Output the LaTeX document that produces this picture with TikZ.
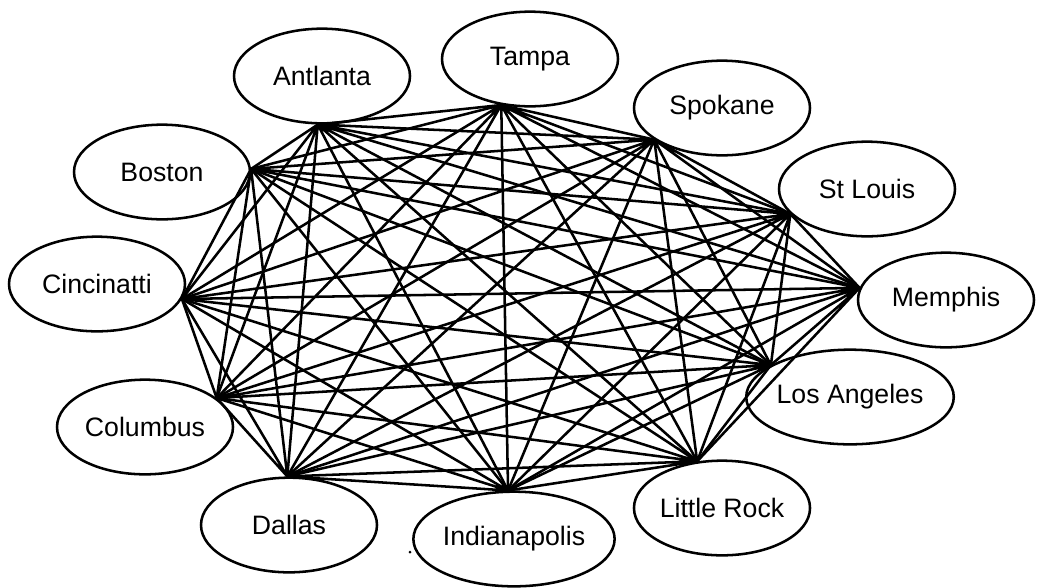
\documentclass[tikz,border=0pt]{standalone}
\usepackage{fontspec}
\setmainfont{Liberation Sans}
\usetikzlibrary{shapes.geometric}

\tikzset{every picture/.style={line width=1.9pt}}
\tikzset{city/.style={draw, ellipse, minimum width=132pt, minimum height=71pt, inner sep=0pt, font=\fontsize{20}{22}\selectfont}}

\begin{document}
\begin{tikzpicture}[x=0.75pt,y=0.75pt,yscale=-1,xscale=1]
\useasboundingbox (0,0) rectangle (1041,587);

%Shape: Ellipse [id:atl] 
\node [city] (atl) at (322,76) {Antlanta};
%Shape: Ellipse [id:tam] 
\node [city] (tam) at (530,59) {Tampa};
%Shape: Ellipse [id:spo] 
\node [city] (spo) at (722,108) {Spokane};
%Shape: Ellipse [id:stl] 
\node [city] (stl) at (867,189) {St Louis};
%Shape: Ellipse [id:mem] 
\node [city] (mem) at (946,300) {Memphis};
%Shape: Ellipse [id:la] 
\node [city] (la) at (850,397) {Los Angeles};
%Shape: Ellipse [id:lr] 
\node [city] (lr) at (722,508) {Little Rock};
%Shape: Ellipse [id:ind] 
\node [city] (ind) at (514,539) {Indianapolis};
%Shape: Ellipse [id:dal] 
\node [city] (dal) at (289,525) {Dallas};
%Shape: Ellipse [id:col] 
\node [city] (col) at (145,427) {Columbus};
%Shape: Ellipse [id:cin] 
\node [city] (cin) at (97,284) {Cincinatti};
%Shape: Ellipse [id:bos] 
\node [city] (bos) at (162,172) {Boston};

%Line ends on the inner side of each ellipse
\coordinate (atl-e) at (atl.-95);
\coordinate (tam-e) at (tam.-122);
\coordinate (spo-e) at (spo.-155);
\coordinate (stl-e) at (stl.-162);
\coordinate (mem-e) at (mem.172);
\coordinate (la-e) at (la.158);
\coordinate (lr-e) at (lr.118);
\coordinate (ind-e) at (ind.97);
\coordinate (dal-e) at (dal.92);
\coordinate (col-e) at (col.22);
\coordinate (cin-e) at (cin.-10);
\coordinate (bos-e) at (bos.2);

%Straight Lines [id:from atl] 
\draw (atl-e) -- (tam-e) (atl-e) -- (spo-e) (atl-e) -- (stl-e) (atl-e) -- (mem-e) (atl-e) -- (la-e) (atl-e) -- (lr-e) (atl-e) -- (ind-e) (atl-e) -- (dal-e) (atl-e) -- (col-e) (atl-e) -- (cin-e) (atl-e) -- (bos-e) ;
%Straight Lines [id:from tam] 
\draw (tam-e) -- (spo-e) (tam-e) -- (stl-e) (tam-e) -- (mem-e) (tam-e) -- (la-e) (tam-e) -- (lr-e) (tam-e) -- (ind-e) (tam-e) -- (dal-e) (tam-e) -- (col-e) (tam-e) -- (cin-e) (tam-e) -- (bos-e) ;
%Straight Lines [id:from spo] 
\draw (spo-e) -- (stl-e) (spo-e) -- (mem-e) (spo-e) -- (la-e) (spo-e) -- (lr-e) (spo-e) -- (ind-e) (spo-e) -- (dal-e) (spo-e) -- (col-e) (spo-e) -- (cin-e) (spo-e) -- (bos-e) ;
%Straight Lines [id:from stl] 
\draw (stl-e) -- (mem-e) (stl-e) -- (la-e) (stl-e) -- (lr-e) (stl-e) -- (ind-e) (stl-e) -- (dal-e) (stl-e) -- (col-e) (stl-e) -- (cin-e) (stl-e) -- (bos-e) ;
%Straight Lines [id:from mem] 
\draw (mem-e) -- (la-e) (mem-e) -- (lr-e) (mem-e) -- (ind-e) (mem-e) -- (dal-e) (mem-e) -- (col-e) (mem-e) -- (cin-e) (mem-e) -- (bos-e) ;
%Straight Lines [id:from la] 
\draw (la-e) -- (lr-e) (la-e) -- (ind-e) (la-e) -- (dal-e) (la-e) -- (col-e) (la-e) -- (cin-e) (la-e) -- (bos-e) ;
%Straight Lines [id:from lr] 
\draw (lr-e) -- (ind-e) (lr-e) -- (dal-e) (lr-e) -- (col-e) (lr-e) -- (cin-e) (lr-e) -- (bos-e) ;
%Straight Lines [id:from ind] 
\draw (ind-e) -- (dal-e) (ind-e) -- (col-e) (ind-e) -- (cin-e) (ind-e) -- (bos-e) ;
%Straight Lines [id:from dal] 
\draw (dal-e) -- (col-e) (dal-e) -- (cin-e) (dal-e) -- (bos-e) ;
%Straight Lines [id:from col] 
\draw (col-e) -- (cin-e) (col-e) -- (bos-e) ;
%Straight Lines [id:from cin] 
\draw (cin-e) -- (bos-e) ;

%Shape: Circle [id:dot] 
\fill (410,552) circle [radius=1.5] ;

\end{tikzpicture}
\end{document}
